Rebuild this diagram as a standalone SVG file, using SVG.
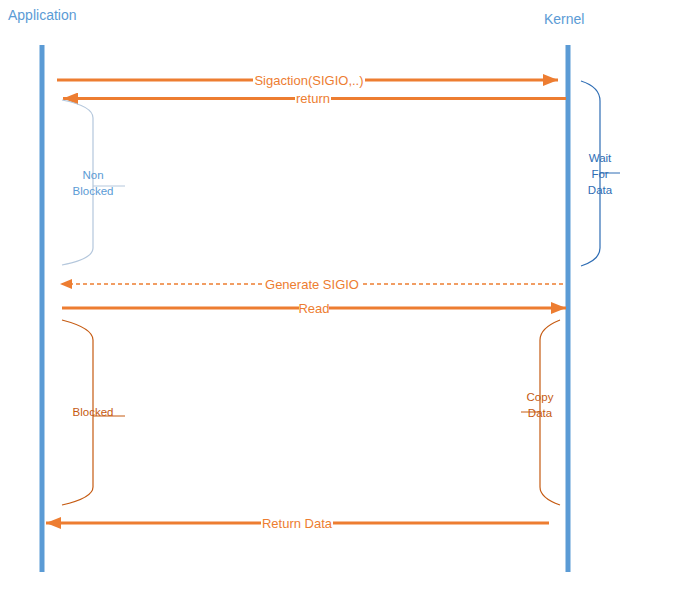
<svg xmlns="http://www.w3.org/2000/svg" width="687" height="602" viewBox="0 0 687 602">
<style>
.life{stroke:#5B9BD5;stroke-width:5}
.title{font-family:"Liberation Sans",Arial,sans-serif;font-size:14px;fill:#5B9BD5}
.msg{stroke:#ED7D31;stroke-width:3;fill:none}
.dash{stroke:#ED7D31;stroke-width:1.5;stroke-dasharray:4,3;fill:none}
.lbl{font-family:"Liberation Sans",Arial,sans-serif;font-size:13px;fill:#ED7D31;text-anchor:middle}
.bg{fill:#fff}
.brace{fill:none;stroke-width:1.2}
.bl{font-family:"Liberation Sans",Arial,sans-serif;font-size:11.5px;text-anchor:middle}
</style>
<defs>
<marker id="ah" markerWidth="15" markerHeight="12" refX="15" refY="6" orient="auto" markerUnits="userSpaceOnUse">
<path d="M0,0 L15,6 L0,12 Z" fill="#ED7D31"/>
</marker>
<marker id="ahs" markerWidth="12" markerHeight="10" refX="12" refY="5" orient="auto" markerUnits="userSpaceOnUse">
<path d="M0,0 L12,5 L0,10 Z" fill="#ED7D31"/>
</marker>
</defs>
<g id="application">
<text class="title" x="8" y="20">Application</text>
<line class="life" x1="42" y1="45" x2="42" y2="572"/>
</g>
<g id="kernel">
<text class="title" x="544" y="24">Kernel</text>
<line class="life" x1="568" y1="45" x2="568" y2="572"/>
</g>
<g id="connectors">
<line class="msg" x1="57" y1="80" x2="558" y2="80" marker-end="url(#ah)"/>
<line class="msg" x1="566" y1="98.5" x2="63" y2="98.5" marker-end="url(#ah)"/>
<line class="dash" x1="563" y1="284" x2="60" y2="284" marker-end="url(#ahs)"/>
<line class="msg" x1="62" y1="308" x2="566" y2="308" marker-end="url(#ah)"/>
<line class="msg" x1="549" y1="523" x2="46" y2="523" marker-end="url(#ah)"/>
</g>
<g id="label-sigaction">
<rect class="bg" x="253" y="72" width="112" height="16"/>
<text class="lbl" x="309" y="85">Sigaction(SIGIO,..)</text>
</g>
<g id="label-return">
<rect class="bg" x="295" y="91" width="36" height="15"/>
<text class="lbl" x="313" y="103">return</text>
</g>
<g id="label-generate">
<rect class="bg" x="264" y="276" width="96" height="16"/>
<text class="lbl" x="312" y="289">Generate SIGIO</text>
</g>
<g id="label-read">
<rect class="bg" x="299" y="300" width="30" height="16"/>
<text class="lbl" x="314" y="313">Read</text>
</g>
<g id="label-returndata">
<rect class="bg" x="261" y="515" width="72" height="16"/>
<text class="lbl" x="297" y="528">Return Data</text>
</g>
<g id="nonblocked">
<path class="brace" stroke="#B4C7DC" d="M62,100 Q93,106 93,118 L93,248 Q93,259 62,265"/>
<line x1="93" y1="186" x2="125" y2="186" stroke="#B4C7DC" stroke-width="1"/>
<text class="bl" fill="#5B9BD5" x="93" y="179">Non</text>
<text class="bl" fill="#5B9BD5" x="93" y="195">Blocked</text>
</g>
<g id="waitfordata">
<path class="brace" stroke="#2E6DB4" d="M581,81 Q600,87 600,101 L600,248 Q600,260 581,266"/>
<line x1="600" y1="173" x2="620" y2="173" stroke="#2E6DB4" stroke-width="1"/>
<text class="bl" fill="#2E6DB4" x="600" y="162">Wait</text>
<text class="bl" fill="#2E6DB4" x="600" y="178">For</text>
<text class="bl" fill="#2E6DB4" x="600" y="194">Data</text>
</g>
<g id="blocked">
<path class="brace" stroke="#C55A11" d="M62,320 Q93,328 93,340 L93,487 Q93,498 62,505"/>
<line x1="93" y1="416" x2="125" y2="416" stroke="#C55A11" stroke-width="1"/>
<text class="bl" fill="#C55A11" x="93" y="416">Blocked</text>
</g>
<g id="copydata">
<path class="brace" stroke="#C55A11" d="M560,320 Q540,328 540,340 L540,487 Q540,498 560,505"/>
<line x1="521" y1="412" x2="540" y2="412" stroke="#C55A11" stroke-width="1"/>
<text class="bl" fill="#C55A11" x="540" y="401">Copy</text>
<text class="bl" fill="#C55A11" x="540" y="417">Data</text>
</g>
</svg>
